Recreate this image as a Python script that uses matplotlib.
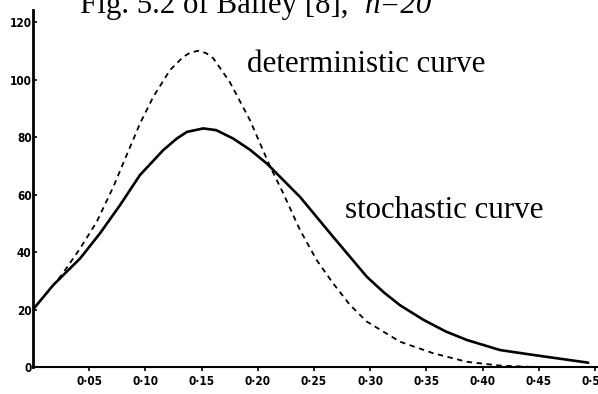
import matplotlib
matplotlib.use("Agg")
import matplotlib.pyplot as plt

# Deterministic epidemic curve (dashed)
x_det = [0.0, 0.0255, 0.042, 0.0567, 0.0715, 0.0833, 0.0952, 0.107, 0.1219, 0.1337,
         0.140, 0.147, 0.154, 0.1604, 0.175, 0.193, 0.211, 0.2227, 0.2375, 0.2524,
         0.267, 0.282, 0.297, 0.3265, 0.356, 0.386, 0.4155, 0.445]
y_det = [20.0, 32.0, 41.3, 50.5, 62.7, 73.7, 84.7, 94.0, 103.3, 107.9,
         109.4, 110.0, 109.2, 107.4, 99.2, 85.9, 69.7, 60.4, 47.7, 37.2,
         29.1, 21.6, 15.8, 8.8, 4.8, 1.8, 0.5, 0.0]

# Stochastic mean curve (solid)
x_sto = [0.0, 0.018, 0.042, 0.0596, 0.0774, 0.0952, 0.116, 0.128, 0.137, 0.1515,
         0.163, 0.178, 0.193, 0.208, 0.2375, 0.267, 0.297, 0.312, 0.3265, 0.347,
         0.367, 0.386, 0.4155, 0.445, 0.494]
y_sto = [20.0, 28.5, 37.8, 46.5, 56.3, 66.8, 75.5, 79.5, 81.8, 83.0,
         82.4, 79.5, 75.6, 70.8, 59.2, 45.3, 31.4, 26.0, 21.5, 16.5,
         12.4, 9.4, 5.9, 4.2, 1.5]

x_ticks = [0.05, 0.10, 0.15, 0.20, 0.25, 0.30, 0.35, 0.40, 0.45, 0.50]
x_ticklabels = ["0·05", "0·10", "0·15", "0·20", "0·25", "0·30", "0·35", "0·40", "0·45", "0·50"]
y_ticks = [0, 20, 40, 60, 80, 100, 120]
y_ticklabels = ["0", "20", "40", "60", "80", "100", "120"]

serif = ["Liberation Serif", "DejaVu Serif"]
tick_font = dict(fontfamily=["DejaVu Sans"], fontweight="bold", fontsize=8.5,
                 fontstretch="condensed")

fig = plt.figure(figsize=(5.98, 3.94), dpi=100)
ax = fig.add_axes([33 / 598, 27 / 394, 565 / 598, 357 / 394])

ax.plot(x_det, y_det, color="black", lw=1.3, linestyle=(0, (3, 2.5)))
ax.plot(x_sto, y_sto, color="black", lw=1.9, solid_capstyle="round",
        solid_joinstyle="round")

ax.set_xlim(0, 0.5027)
ax.set_ylim(0, 124.2)

for side in ("top", "right"):
    ax.spines[side].set_visible(False)
ax.spines["left"].set_linewidth(2.0)
ax.spines["bottom"].set_linewidth(1.5)

ax.set_xticks(x_ticks)
ax.set_xticklabels(x_ticklabels, **tick_font)
ax.set_yticks(y_ticks)
ax.set_yticklabels(y_ticklabels, **tick_font)
ax.tick_params(axis="x", direction="out", length=3, width=1.2, pad=2.5)
ax.tick_params(axis="y", direction="in", length=3, width=1.2, pad=1)

ax.text(0.190, 102.7, "deterministic curve", fontfamily=serif, fontsize=22.3,
        va="baseline", ha="left")
ax.text(0.2776, 51.8, "stochastic curve", fontfamily=serif, fontsize=22.3,
        va="baseline", ha="left")

fig.text(80 / 598, (394 - 13) / 394, "Fig. 5.2 of Bailey [8],", fontfamily=serif,
         fontsize=22.2, va="baseline", ha="left")
fig.text(365 / 598, (394 - 13) / 394, "n=20", fontfamily=serif, fontstyle="italic",
         fontsize=22.2, va="baseline", ha="left")

fig.savefig("out.png", dpi=100)
